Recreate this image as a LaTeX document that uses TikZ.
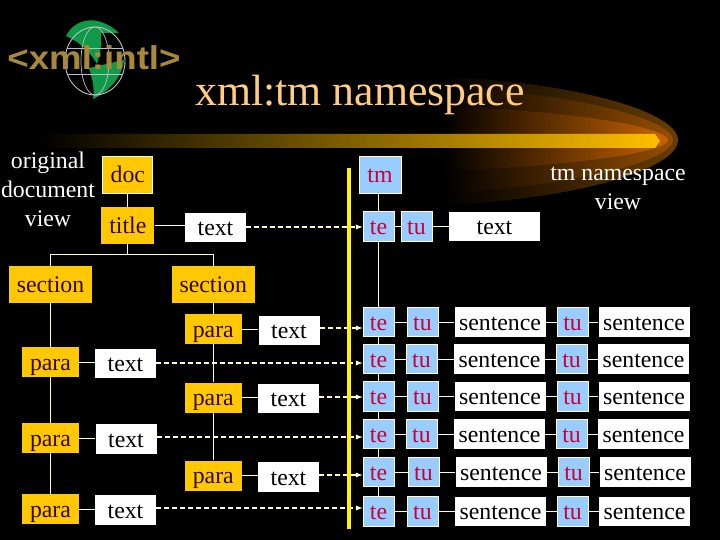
\documentclass[tikz,border=0pt]{standalone}
\usepackage{fontspec}
\setmainfont{Liberation Serif}
\newfontfamily\logofont{Liberation Sans}
\usetikzlibrary{arrows}

\definecolor{goldfill}{HTML}{FFC800}
\definecolor{goldtext}{HTML}{330800}
\definecolor{bluefill}{HTML}{99CCFF}
\definecolor{redtext}{HTML}{CC0033}
\definecolor{paleline}{HTML}{FFFFCC}
\definecolor{titletext}{HTML}{FFCC80}
\definecolor{bargold}{HTML}{FFBF00}
\definecolor{logogold}{HTML}{A8883A}
\definecolor{logogreen}{HTML}{0E9A48}
\definecolor{swooshA}{HTML}{6A3C00}
\definecolor{swooshB}{HTML}{954E00}
\definecolor{swooshC}{HTML}{C86400}

\newcommand{\boxfont}{\fontsize{23.8}{29}\selectfont}

\tikzset{
  boxnode/.style={inner sep=0pt, text height=16pt, text depth=0pt, font=\boxfont},
  goldnode/.style={boxnode, fill=goldfill, text=goldtext},
  whitenode/.style={boxnode, fill=white, text=black},
  bluenode/.style={boxnode, fill=bluefill, text=redtext, draw=paleline, line width=0.8pt, minimum width=31pt, minimum height=29.5pt},
  paranode/.style={goldnode, minimum width=57pt, minimum height=30pt},
  secnode/.style={goldnode, minimum width=83pt, minimum height=37pt},
  textnode/.style={whitenode, minimum width=61pt, minimum height=29.5pt},
  sentnode/.style={whitenode, minimum width=91pt, minimum height=29.5pt},
  viewnode/.style={font=\boxfont, text=white, align=center, inner sep=0pt},
  treeline/.style={paleline, line width=0.9pt},
  maplink/.style={paleline, line width=1.3pt, dash pattern=on 5pt off 3pt, -latex}
}

\begin{document}
\begin{tikzpicture}[x=1pt, y=-1pt]
\useasboundingbox (0,0) rectangle (720,540);
\fill[black] (0,0) rectangle (720,540);

% swoosh and bar
\shade[left color=black, right color=swooshA] (443,77) .. controls (575,82) and (678,112) .. (678,140) .. controls (678,170) and (570,200) .. (443,205) -- cycle;
\shade[left color=black, right color=swooshB] (443,87) .. controls (575,92) and (673,120) .. (673,140) .. controls (673,160) and (580,186) .. (443,193) -- cycle;
\shade[left color=black, right color=swooshC] (443,107) .. controls (575,110) and (668,128) .. (668,140) .. controls (668,152) and (575,166) .. (443,171) -- cycle;
\shade[left color=black, right color=bargold] (39,134) -- (655,134) -- (660,141) -- (655,148) -- (39,148) -- cycle;

% logo
\fill[logogreen] (66,36) .. controls (74,20) and (96,12) .. (119,33) -- (101,33) .. controls (102,44) and (100,54) .. (97,64) .. controls (90,52) and (80,42) .. (66,36) -- cycle;
\fill[logogreen] (89,68) -- (124,60) .. controls (122,78) and (108,92) .. (93,99) .. controls (95,88) and (92,78) .. (89,68) -- cycle;
\draw[white!75!black, line width=0.9pt] (95,61) ellipse (30pt and 34pt);
\draw[white!75!black, line width=0.7pt] (95,61) ellipse (14pt and 34pt);
\draw[white!75!black, line width=0.7pt] (67,48) -- (123,48) (67,74) -- (123,74);
\node[logogold, font={\logofont\bfseries\fontsize{33}{33}\selectfont}, xscale=1.11, transform shape, anchor=base] (logo) at (94,70) {<xml:intl>};

\node[titletext, font={\fontsize{43.8}{44}\selectfont}, anchor=base, inner sep=0pt] (heading) at (360,106) {xml:tm namespace};

% original document
\node[viewnode, anchor=base] (viewL) at (48,226.7) {original\\document\\view};
\node[goldnode, draw=paleline, line width=0.8pt, minimum width=50pt, minimum height=37pt] (doc) at (127.8,174.5) {doc};
\node[goldnode, minimum width=53pt, minimum height=37pt] (title) at (127.8,225.5) {title};
\node[textnode] (titletxt) at (215.5,227.5) {text};
\node[secnode] (secL) at (50.5,284.5) {section};
\node[secnode] (secR) at (213.3,284.5) {section};

\node[paranode] (paraA) at (213.3,329) {para};
\node[paranode] (paraB) at (50.5,362) {para};
\node[paranode] (paraC) at (213.3,397.5) {para};
\node[paranode] (paraD) at (50.5,438) {para};
\node[paranode] (paraE) at (213.3,475.5) {para};
\node[paranode] (paraF) at (50.5,509) {para};

\node[textnode] (txtA) at (289,330.5) {text};
\node[textnode] (txtB) at (125.5,363.5) {text};
\node[textnode] (txtC) at (288.5,398.5) {text};
\node[textnode] (txtD) at (126,439) {text};
\node[textnode] (txtE) at (288.5,477) {text};
\node[textnode] (txtF) at (125.5,510) {text};

% tm namespace
\node[viewnode, anchor=base] (viewR) at (618,210) {tm namespace\\view};
\node[bluenode, minimum width=42pt, minimum height=37pt] (tm) at (380,174.5) {tm};
\node[bluenode] (teT) at (378.5,226.5) {te};
\node[bluenode] (tuT) at (416.5,226.5) {tu};
\node[whitenode, minimum width=91pt, minimum height=29pt] (tmtxt) at (494.5,226.5) {text};

\node[bluenode] (teA) at (378.5,322) {te};
\node[bluenode] (tuA) at (422.5,322) {tu};
\node[sentnode] (senA) at (500,322) {sentence};
\node[bluenode] (uuA) at (572.5,322) {tu};
\node[sentnode] (setA) at (644,322) {sentence};

\node[bluenode] (teB) at (378.5,359) {te};
\node[bluenode] (tuB) at (421.5,359) {tu};
\node[sentnode] (senB) at (499.5,359) {sentence};
\node[bluenode] (uuB) at (571.5,359) {tu};
\node[sentnode] (setB) at (643.5,359) {sentence};

\node[bluenode] (teC) at (378.5,396.5) {te};
\node[bluenode] (tuC) at (422.5,396.5) {tu};
\node[sentnode] (senC) at (500,396.5) {sentence};
\node[bluenode] (uuC) at (572.5,396.5) {tu};
\node[sentnode] (setC) at (644,396.5) {sentence};

\node[bluenode] (teD) at (378.5,434) {te};
\node[bluenode] (tuD) at (421.5,434) {tu};
\node[sentnode] (senD) at (499.5,434) {sentence};
\node[bluenode] (uuD) at (571.5,434) {tu};
\node[sentnode] (setD) at (643.5,434) {sentence};

\node[bluenode] (teE) at (378.5,472) {te};
\node[bluenode] (tuE) at (423.5,472) {tu};
\node[sentnode] (senE) at (501,472) {sentence};
\node[bluenode] (uuE) at (573.5,472) {tu};
\node[sentnode] (setE) at (645,472) {sentence};

\node[bluenode] (teF) at (378.5,511.5) {te};
\node[bluenode] (tuF) at (422.5,511.5) {tu};
\node[sentnode] (senF) at (500.5,511.5) {sentence};
\node[bluenode] (uuF) at (572.5,511.5) {tu};
\node[sentnode] (setF) at (644.5,511.5) {sentence};

% trees
\draw[treeline] (doc) -- (title);
\draw[treeline] (title.east) -- (title.east -| titletxt.west);
\draw[treeline] (title.south) -- ++(0,10) -| (secL.north);
\draw[treeline] (title.south) -- ++(0,10) -| (secR.north);
\draw[treeline] (secL) -- (paraB);
\draw[treeline] (paraB) -- (paraD);
\draw[treeline] (paraD) -- (paraF);
\draw[treeline] (secR) -- (paraA);
\draw[treeline] (paraA) -- (paraC);
\draw[treeline] (paraC) -- (paraE);

\draw[treeline] (paraA.east) -- (paraA.east -| txtA.west);
\draw[treeline] (paraB.east) -- (paraB.east -| txtB.west);
\draw[treeline] (paraC.east) -- (paraC.east -| txtC.west);
\draw[treeline] (paraD.east) -- (paraD.east -| txtD.west);
\draw[treeline] (paraE.east) -- (paraE.east -| txtE.west);
\draw[treeline] (paraF.east) -- (paraF.east -| txtF.west);

\draw[treeline] (tm.south -| teT.north) -- (teT.north);
\draw[treeline] (teT) -- (teA);
\draw[treeline] (teA) -- (teB);
\draw[treeline] (teB) -- (teC);
\draw[treeline] (teC) -- (teD);
\draw[treeline] (teD) -- (teE);
\draw[treeline] (teE) -- (teF);

\draw[treeline] (teT) -- (tuT);
\draw[treeline] (tuT) -- (tmtxt);
\draw[treeline] (teA) -- (tuA);
\draw[treeline] (tuA) -- (senA);
\draw[treeline] (senA) -- (uuA);
\draw[treeline] (uuA) -- (setA);
\draw[treeline] (teB) -- (tuB);
\draw[treeline] (tuB) -- (senB);
\draw[treeline] (senB) -- (uuB);
\draw[treeline] (uuB) -- (setB);
\draw[treeline] (teC) -- (tuC);
\draw[treeline] (tuC) -- (senC);
\draw[treeline] (senC) -- (uuC);
\draw[treeline] (uuC) -- (setC);
\draw[treeline] (teD) -- (tuD);
\draw[treeline] (tuD) -- (senD);
\draw[treeline] (senD) -- (uuD);
\draw[treeline] (uuD) -- (setD);
\draw[treeline] (teE) -- (tuE);
\draw[treeline] (tuE) -- (senE);
\draw[treeline] (senE) -- (uuE);
\draw[treeline] (uuE) -- (setE);
\draw[treeline] (teF) -- (tuF);
\draw[treeline] (tuF) -- (senF);
\draw[treeline] (senF) -- (uuF);
\draw[treeline] (uuF) -- (setF);

% mapping between the views
\draw[maplink] (titletxt.east |- 0,227) -- (teT.west |- 0,227);
\draw[maplink] (txtA.east |- 0,328) -- (teA.west |- 0,328);
\draw[maplink] (txtB.east |- 0,363) -- (teB.west |- 0,363);
\draw[maplink] (txtC.east |- 0,397) -- (teC.west |- 0,397);
\draw[maplink] (txtD.east |- 0,437) -- (teD.west |- 0,437);
\draw[maplink] (txtE.east |- 0,475) -- (teE.west |- 0,475);
\draw[maplink] (txtF.east |- 0,508) -- (teF.west |- 0,508);

\coordinate (barT) at (348.5,168);
\coordinate (barB) at (348.5,529);
\draw[yellow, line width=4pt] (barT) -- (barB);
\end{tikzpicture}
\end{document}
